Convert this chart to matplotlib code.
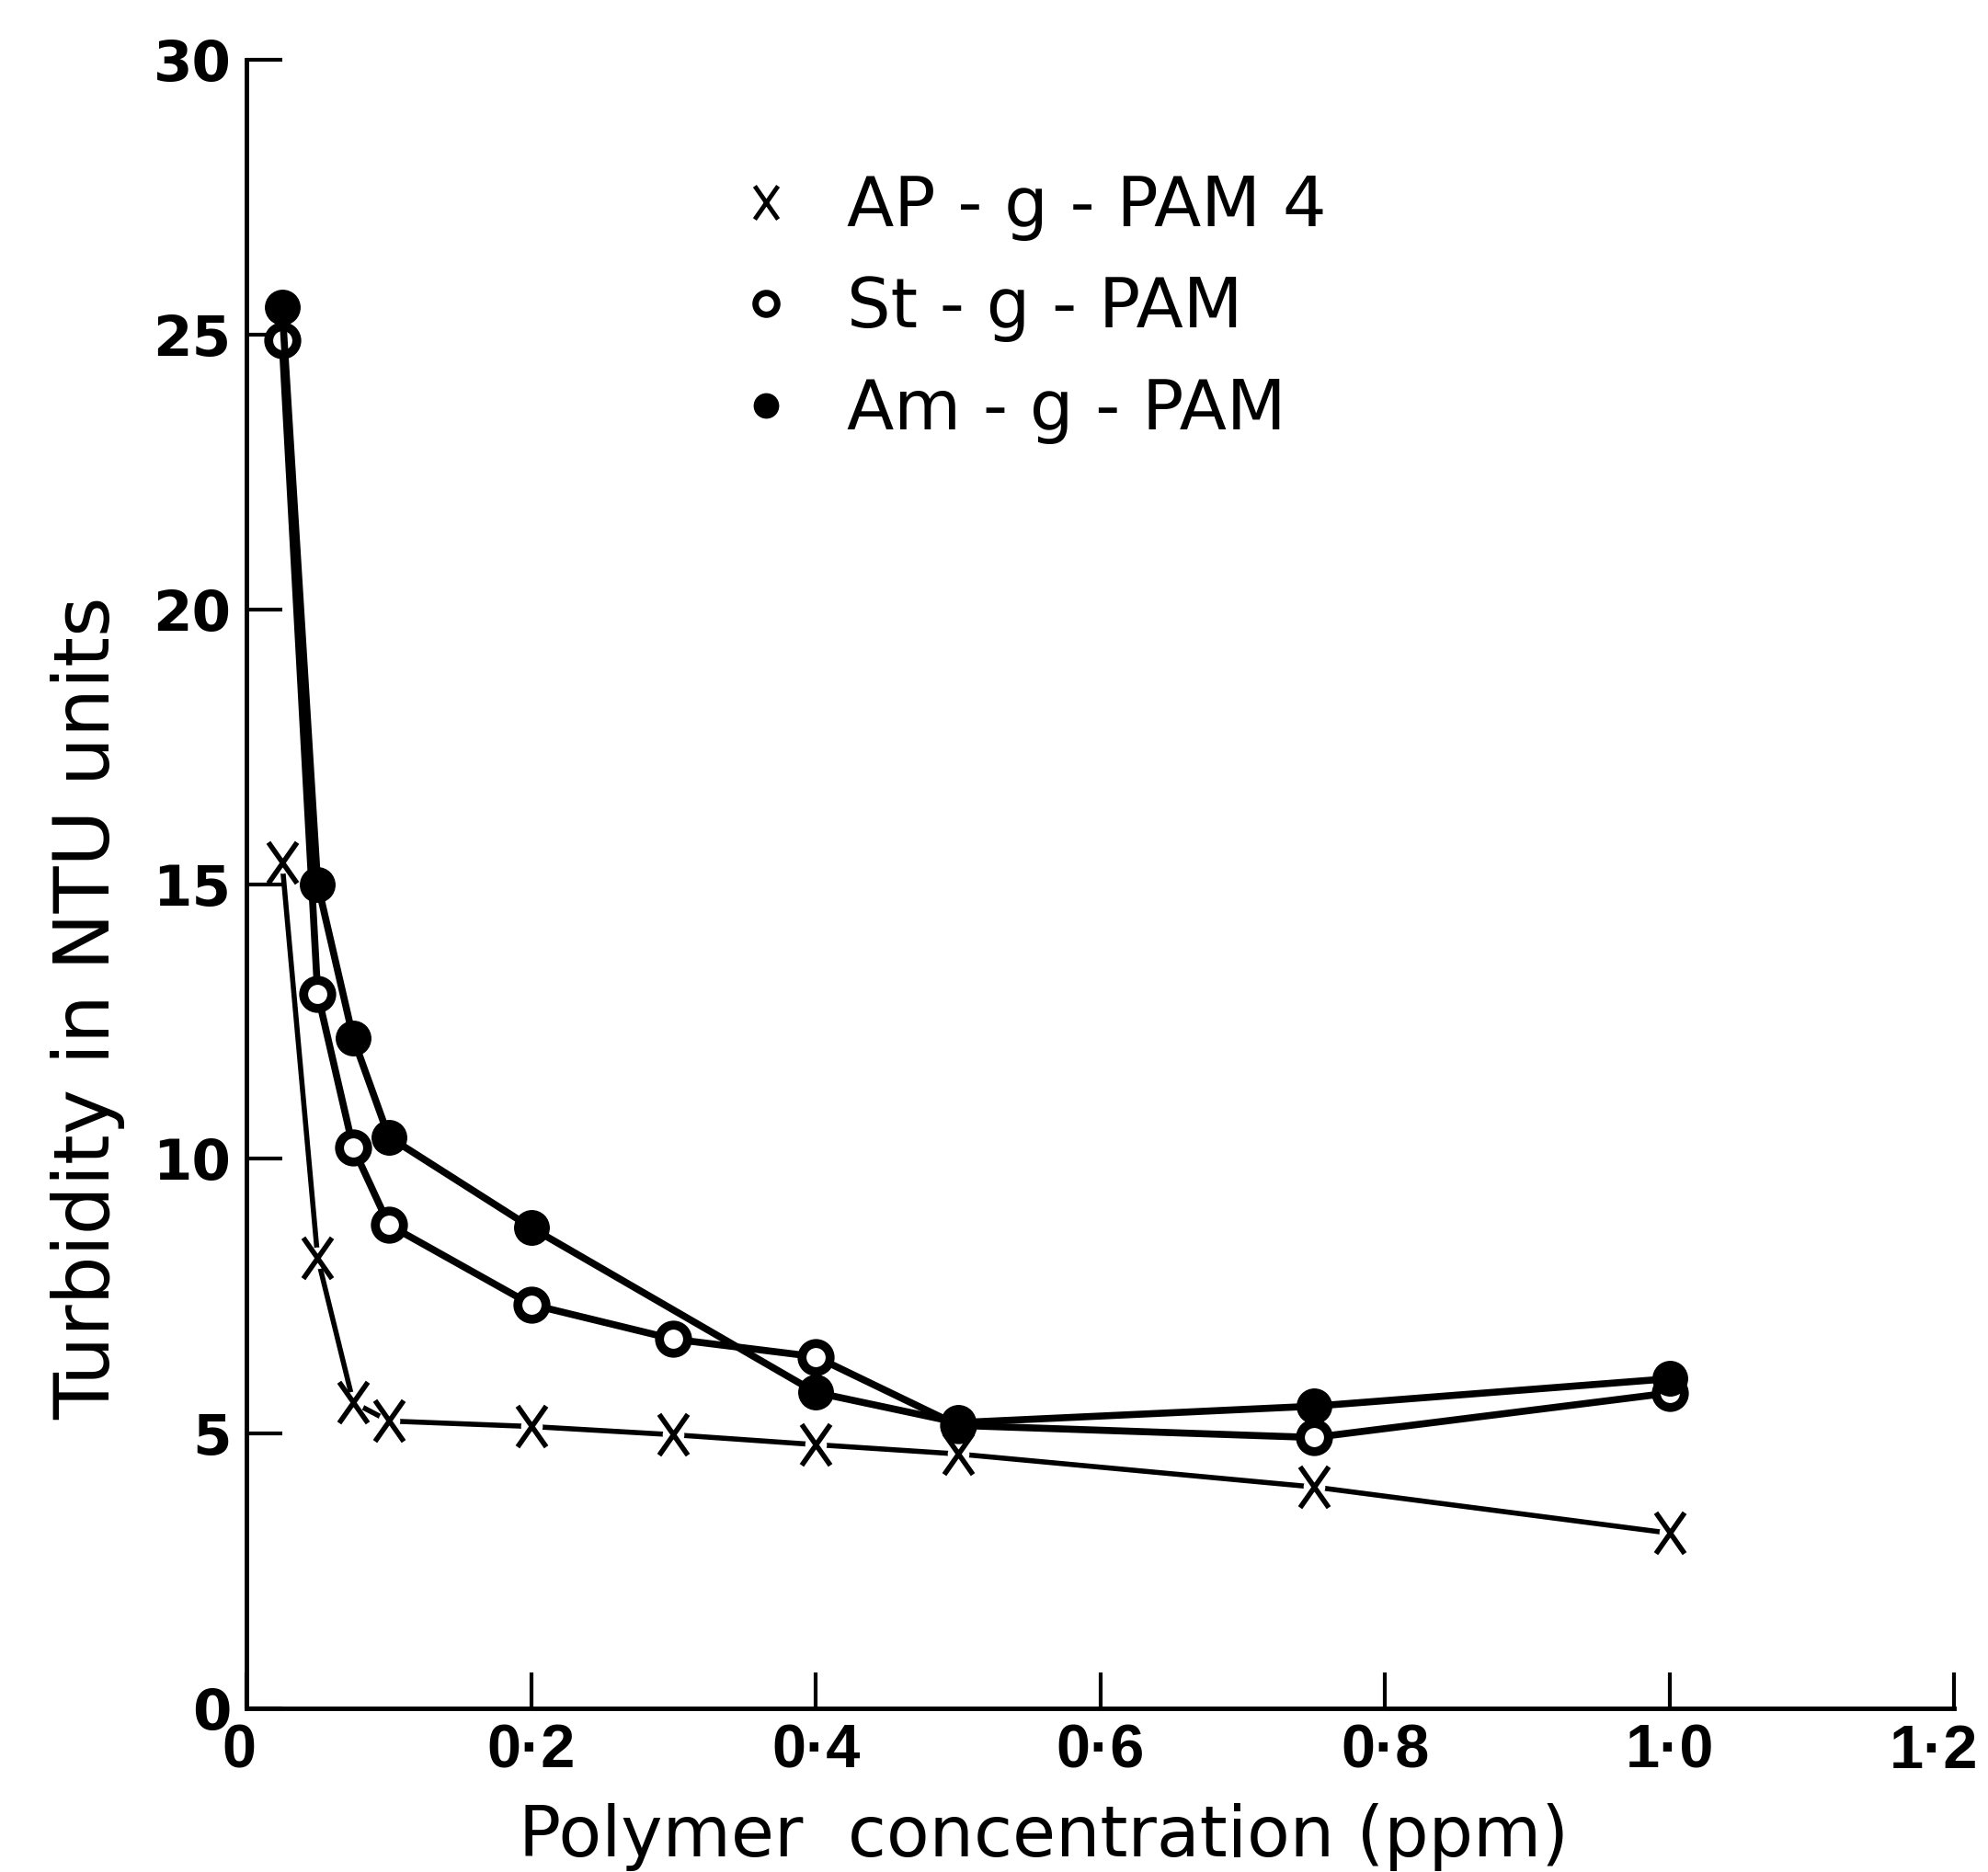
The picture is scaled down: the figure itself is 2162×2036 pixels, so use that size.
import matplotlib
matplotlib.use("Agg")
import matplotlib.pyplot as plt
import matplotlib.transforms as mtransforms
from matplotlib.lines import Line2D
from matplotlib.path import Path

# ---- data ----
x_ap = [0.025, 0.05, 0.075, 0.1, 0.2, 0.3, 0.4, 0.5, 0.75, 1.0]
y_ap = [15.4, 8.2, 5.57, 5.23, 5.13, 4.98, 4.80, 4.63, 4.03, 3.19]

x_st = [0.025, 0.05, 0.075, 0.1, 0.2, 0.3, 0.4, 0.5, 0.75, 1.0]
y_st = [24.9, 13.0, 10.2, 8.8, 7.35, 6.72, 6.4, 5.15, 4.93, 5.74]

x_am = [0.025, 0.05, 0.075, 0.1, 0.2, 0.4, 0.5, 0.75, 1.0]
y_am = [25.5, 15.0, 12.2, 10.4, 8.75, 5.75, 5.2, 5.5, 6.0]

labels = ["AP - g - PAM 4", "St - g - PAM", "Am - g - PAM"]
x_ticks = [0, 0.2, 0.4, 0.6, 0.8, 1.0, 1.2]
x_ticklabels = ["0", "0\u00b72", "0\u00b74", "0\u00b76", "0\u00b78", "1\u00b70", "1\u00b72"]
y_ticks = [0, 5, 10, 15, 20, 25, 30]
y_ticklabels = ["0", "5", "10", "15", "20", "25", "30"]
x_label = "Polymer  concentration (ppm)"
y_label = "Turbidity in NTU units"

plt.rcParams['font.family'] = ['DejaVu Sans']

fig = plt.figure(figsize=(21.62, 20.36), dpi=100)
ax = fig.add_axes([0.124, 0.0874, 0.983 - 0.124, 0.968 - 0.0874])

# tall x marker
tall_x = Path([(-0.7, -1.0), (0.7, 1.0), (-0.7, 1.0), (0.7, -1.0)],
              [Path.MOVETO, Path.LINETO, Path.MOVETO, Path.LINETO])

ax.plot(x_ap, y_ap, color='black', lw=4, zorder=2, solid_capstyle='butt')
ax.plot(x_ap, y_ap, ls='none', marker='o', ms=17, mfc='white', mec='none', zorder=3)
ax.plot(x_ap, y_ap, ls='none', marker=tall_x, ms=32, mec='black', mew=4, zorder=4)

ax.plot(x_st, y_st, color='black', lw=5.5, marker='o', ms=22, mfc='white',
        mec='black', mew=7, zorder=5)
ax.plot(x_am, y_am, color='black', lw=5.5, marker='o', ms=27, mfc='black',
        mec='black', zorder=6)

ax.set_xlim(0, 1.2)
ax.set_ylim(0, 30)
ax.set_xticks(x_ticks)
ax.set_xticklabels(x_ticklabels, family=['Liberation Sans', 'DejaVu Sans'],
                   fontweight='bold', fontsize=48)
ax.set_yticks(y_ticks)
ax.set_yticklabels(y_ticklabels, fontweight='bold', fontsize=44)

for s in ['top', 'right']:
    ax.spines[s].set_visible(False)
for s in ['left', 'bottom']:
    ax.spines[s].set_linewidth(3.5)

ax.tick_params(axis='both', direction='in', length=28, width=3, pad=12)

# nudge first and last x tick labels as in the original
xt = ax.get_xticklabels()
xt[0].set_transform(xt[0].get_transform() +
                    mtransforms.ScaledTranslation(-8 / 100, 0, fig.dpi_scale_trans))
xt[-1].set_transform(xt[-1].get_transform() +
                     mtransforms.ScaledTranslation(-22 / 100, 0, fig.dpi_scale_trans))

ax.set_xlabel(x_label, fontsize=55, va='center')
ax.xaxis.set_label_coords(0.467, -0.078)
ax.set_ylabel(y_label, fontsize=60, va='center')
ax.yaxis.set_label_coords(-0.093, 0.425)

handles = [
    Line2D([], [], ls='none', marker=tall_x, ms=26, mec='black', mew=3.5),
    Line2D([], [], ls='none', marker='o', ms=17, mfc='white', mec='black', mew=5),
    Line2D([], [], ls='none', marker='o', ms=19, mfc='black', mec='black'),
]
ax.legend(handles, labels, loc='upper left', bbox_to_anchor=(0.288, 0.931),
          frameon=False, fontsize=54, handlelength=0.8, handletextpad=0.77,
          labelspacing=0.5, borderpad=0, borderaxespad=0)

fig.savefig("out.png", dpi=100, facecolor='white')
